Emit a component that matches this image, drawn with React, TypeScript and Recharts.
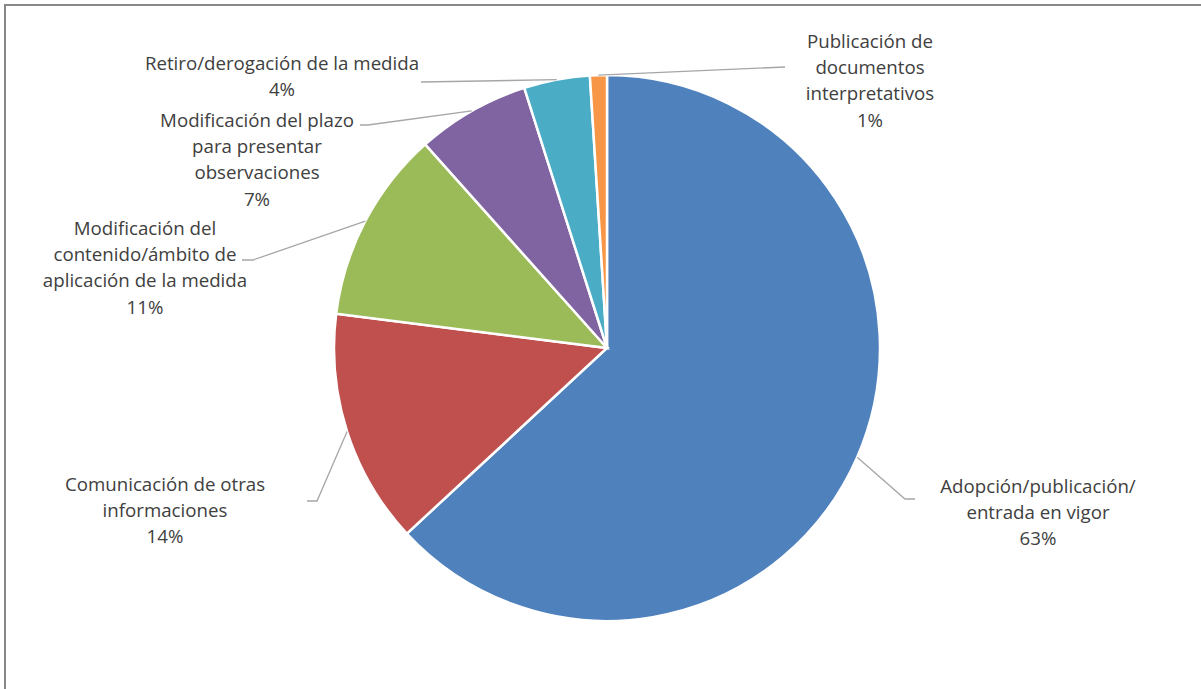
// Pie of notification types with Excel-style outside labels and leader lines.
import { Cell, Pie, PieChart } from "recharts";

const CATEGORY_LINES: string[][] = [
  ["Adopción/publicación/", "entrada en vigor"],
  ["Comunicación de otras", "informaciones"],
  ["Modificación del", "contenido/ámbito de", "aplicación de la medida"],
  ["Modificación del plazo", "para presentar", "observaciones"],
  ["Retiro/derogación de la medida"],
  ["Publicación de", "documentos", "interpretativos"],
];

// Shares (percent of total).
const SHARES = [63.1, 13.9, 11.4, 6.7, 3.9, 1.0];

const COLORS = ["#4F81BD", "#C0504D", "#9BBB59", "#8064A2", "#4BACC6", "#F79646"];

// Label placement relative to the pie centre: where the leader bends,
// where it ends, and where the text block sits.
const LABEL_LAYOUT = [
  { elbow: [298, 151], end: [308, 151], tx: 431, ty: 137 },
  { elbow: [-290, 153], end: [-300, 153], tx: -442, ty: 135 },
  { elbow: [-354, -88], end: [-365, -88], tx: -462, ty: -121 },
  { elbow: [-239, -223], end: [-247, -223], tx: -350, ty: -229 },
  { elbow: null, end: [-186, -266], tx: -325, ty: -286 },
  { elbow: null, end: [178, -281], tx: 263, ty: -308 },
];

const LINE_HEIGHT = 26.4;
const FONT = "'Open Sans', sans-serif";

const data = CATEGORY_LINES.map((lines, i) => ({ name: lines.join(" "), value: SHARES[i] }));

function renderLabel(props: any) {
  const { cx, cy, midAngle, outerRadius, index, percent } = props;
  const rad = Math.PI / 180;
  const sx = cx + outerRadius * Math.cos(-midAngle * rad);
  const sy = cy + outerRadius * Math.sin(-midAngle * rad);
  const layout = LABEL_LAYOUT[index];
  const pts = [[sx, sy]];
  if (layout.elbow) pts.push([cx + layout.elbow[0], cy + layout.elbow[1]]);
  pts.push([cx + layout.end[0], cy + layout.end[1]]);
  const lines = [...CATEGORY_LINES[index], `${Math.round(percent * 100)}%`];
  return (
    <g key={`lbl-${index}`}>
      <polyline
        points={pts.map((p) => p.join(",")).join(" ")}
        fill="none"
        stroke="#a6a6a6"
        strokeWidth={1.3}
      />
      {lines.map((t, j) => (
        <text
          key={j}
          x={cx + layout.tx}
          y={cy + layout.ty + j * LINE_HEIGHT}
          textAnchor="middle"
          dominantBaseline="central"
          fill="#404040"
          fontSize={18.7}
          fontFamily={FONT}
        >
          {t}
        </text>
      ))}
    </g>
  );
}

export default function App() {
  return (
    <div
      style={{
        position: "absolute",
        left: 0,
        top: 0,
        width: 1201,
        height: 689,
        overflow: "hidden",
        background: "#fff",
      }}
    >
      <div
        style={{
          position: "absolute",
          left: 4,
          top: 4,
          width: 1300,
          height: 800,
          border: "2px solid #898989",
          boxSizing: "border-box",
        }}
      />
      <div style={{ position: "absolute", left: 0, top: 0 }}>
        <PieChart width={1201} height={689} margin={{ top: 0, right: 0, bottom: 0, left: 0 }}>
          <Pie
            data={data}
            dataKey="value"
            nameKey="name"
            cx={607}
            cy={348}
            outerRadius={273}
            startAngle={90}
            endAngle={-270}
            stroke="#ffffff"
            strokeWidth={2.5}
            label={renderLabel}
            labelLine={false}
            isAnimationActive={false}
          >
            {data.map((_, i) => (
              <Cell key={i} fill={COLORS[i]} />
            ))}
          </Pie>
        </PieChart>
      </div>
    </div>
  );
}
